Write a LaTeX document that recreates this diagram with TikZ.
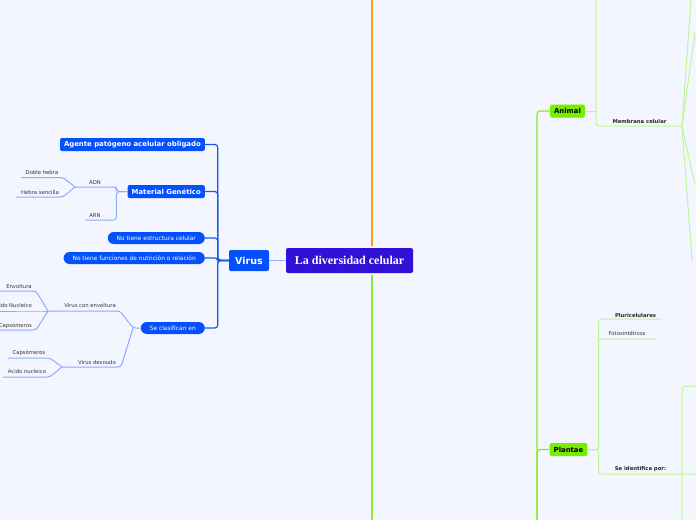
\documentclass[tikz,border=0pt]{standalone}
\usepackage{fontspec}
\setmainfont{Liberation Serif}
\setsansfont{DejaVu Sans}
\usetikzlibrary{positioning}

\definecolor{bgcol}{RGB}{243,246,254}
\definecolor{rootcol}{RGB}{50,16,214}
\definecolor{virblue}{RGB}{4,80,250}
\definecolor{lineblue}{RGB}{20,88,240}
\definecolor{leafblue}{RGB}{140,172,255}
\definecolor{leafgray}{RGB}{50,50,60}
\definecolor{kgreen}{RGB}{119,238,0}
\definecolor{trunkgreen}{RGB}{140,232,50}
\definecolor{leafgreen}{RGB}{192,245,150}
\definecolor{orangecol}{RGB}{255,152,30}

\begin{document}
\begin{tikzpicture}[x=1pt, y=-1pt,
    root/.style={fill=rootcol, rounded corners=2pt, text=white, font=\rmfamily\bfseries\fontsize{12}{14}\selectfont, minimum width=127pt, minimum height=25pt, inner sep=0pt},
    topic/.style={fill=virblue, rounded corners=2pt, text=white, font=\sffamily\bfseries\fontsize{9.5}{12}\selectfont, minimum width=40pt, minimum height=21pt, inner sep=0pt},
    sub/.style={fill=virblue, rounded corners=2pt, text=white, font=\sffamily\bfseries\fontsize{6.9}{8}\selectfont, minimum height=13pt, inner xsep=4pt, inner ysep=0pt},
    pill/.style={fill=virblue, rounded corners=6pt, text=white, font=\sffamily\fontsize{5.9}{7}\selectfont, minimum height=12pt, inner xsep=9pt, inner ysep=0pt},
    kingdom/.style={fill=kgreen, rounded corners=2pt, font=\sffamily\bfseries\fontsize{6.9}{8}\selectfont, minimum height=13pt, inner xsep=4pt, inner ysep=0pt},
    leaf/.style={font=\sffamily\fontsize{5.3}{7}\selectfont, text=leafgray, inner sep=0pt},
    bleaf/.style={leaf, font=\sffamily\bfseries\fontsize{5.3}{7}\selectfont, text=black!85},
    mainline/.style={draw=lineblue, line width=1.2pt, rounded corners=3pt},
    subline/.style={draw=leafblue, line width=1pt, rounded corners=3pt},
    gline/.style={draw=leafgreen, line width=1pt, rounded corners=3pt},
    trunkline/.style={draw=trunkgreen, line width=1.2pt, rounded corners=3pt}
]
\fill[bgcol] (0,0) rectangle (696,520);
\useasboundingbox (0,0) rectangle (696,520);

% Nodes
\node[root] (root) at (349.5,260.5) {La diversidad celular};
\node[topic] (virus) at (249,260.5) {Virus};

\node[sub, anchor=east] (agente) at (205,144.5) {Agente patógeno acelular obligado};
\node[sub, anchor=east] (material) at (205,191.5) {Material Genético};
\node[pill, anchor=east] (noestr) at (205,238) {No tiene estructura celular};
\node[pill, anchor=east] (nofunc) at (205,258) {No tiene funciones de nutrición o relación};
\node[pill, anchor=east] (seclas) at (205,328) {Se clasifican en};

\node[leaf] (adn) at (95,182.5) {ADN};
\node[leaf] (arn) at (95,215.5) {ARN};
\node[leaf] (doble) at (42,172.5) {Doble hebra};
\node[leaf] (hebra) at (40,192.5) {Hebra sencilla};
\node[leaf] (convol) at (90,305.5) {Virus con envoltura};
\node[leaf] (envoltura) at (19,286.5) {Envoltura};
\node[leaf, anchor=east] (acnuc) at (32,305.5) {Acido Nucleico};
\node[leaf, anchor=east] (caps) at (32,325.5) {Capsómeros};
\node[leaf] (desnudo) at (97,362.5) {Virus desnudo};
\node[leaf] (capsb) at (29,352.5) {Capsómeros};
\node[leaf] (acnucb) at (27,371.5) {Acido nucleico};

\node[kingdom] (animal) at (567.5,111) {Animal};
\node[kingdom] (plantae) at (568.5,449.5) {Plantae};
\node[bleaf] (membrana) at (639.5,121.5) {Membrana celular};
\node[bleaf] (pluri) at (635.5,315.5) {Pluricelulares};
\node[leaf] (foto) at (627,333.5) {Fotosintéticos};
\node[bleaf] (ident) at (640.5,469.5) {Se identifica por:};

% Free ends and junctions
\coordinate (topend) at (372,0);
\coordinate (botend) at (372,520);
\coordinate (adnL) at (75,187);
\coordinate (arnL) at (85,220);
\coordinate (dobleR) at (63,177.5);
\coordinate (dobleL) at (21,177.5);
\coordinate (hebraR) at (63,197);
\coordinate (hebraL) at (16,197);
\coordinate (sej) at (133,328);
\coordinate (convolR) at (120,311);
\coordinate (convolL) at (48,311);
\coordinate (desnR) at (121,367);
\coordinate (desnL) at (62,367);
\coordinate (envR) at (36,291);
\coordinate (envL) at (0,291);
\coordinate (nucR) at (36,311);
\coordinate (nucL) at (0,311);
\coordinate (capR) at (36,330);
\coordinate (capL) at (0,330);
\coordinate (capbR) at (50,358);
\coordinate (capbL) at (8,358);
\coordinate (acbR) at (50,377);
\coordinate (acbL) at (3,377);
\coordinate (rtrunk) at (537,520);
\coordinate (anTop) at (596,0);
\coordinate (membR) at (682,126);
\coordinate (fan1) at (691,0);
\coordinate (fan2) at (695,33);
\coordinate (fan3) at (695,185);
\coordinate (fan4) at (692,260);
\coordinate (pluriR) at (661,319);
\coordinate (fotoR) at (657,339);
\coordinate (identR) at (696,474);
\coordinate (idBot) at (682,520);
\coordinate (idTop) at (696,386);

% Connections
\draw[orangecol, line width=2pt, shorten <=2pt] (root.north -| topend) -- (topend);
\draw[trunkgreen, line width=2pt, shorten <=2pt] (root.south -| botend) -- (botend);
\draw[leafblue, line width=1pt] (virus.east) -- (root.west);

\foreach \n in {agente, material, noestr, nofunc, seclas}
  \draw[mainline] (virus.west) -- ++(-11,0) |- (\n.east);

\draw[subline] (material.west) -- ++(-11,0) |- (adnL);
\draw[subline] (material.west) -- ++(-11,0) |- (arnL);
\draw[subline] (adnL) -- (dobleR) -- (dobleL);
\draw[subline] (adnL) -- (hebraR) -- (hebraL);

\draw[subline] (seclas.west) -- (sej) -- (convolR) -- (convolL);
\draw[subline] (sej) -- (desnR) -- (desnL);
\draw[subline] (convolL) -- (envR) -- (envL);
\draw[subline] (convolL) -- (nucR) -- (nucL);
\draw[subline] (convolL) -- (capR) -- (capL);
\draw[subline] (desnL) -- (capbR) -- (capbL);
\draw[subline] (desnL) -- (acbR) -- (acbL);

\draw[trunkline] (rtrunk) |- (animal.west);
\draw[trunkline] (rtrunk) |- (plantae.west);

\draw[gline] (animal.east) -- (animal.east -| anTop);
\draw[gline] (anTop) |- (membR);
\foreach \f in {fan1, fan2, fan3, fan4}
  \draw[gline] (membR) -- (\f);

\foreach \r in {pluriR, fotoR, identR}
  \draw[gline] (plantae.east) -- ++(11,0) |- (\r);
\draw[gline] (idBot) |- (idTop);

\end{tikzpicture}
\end{document}
